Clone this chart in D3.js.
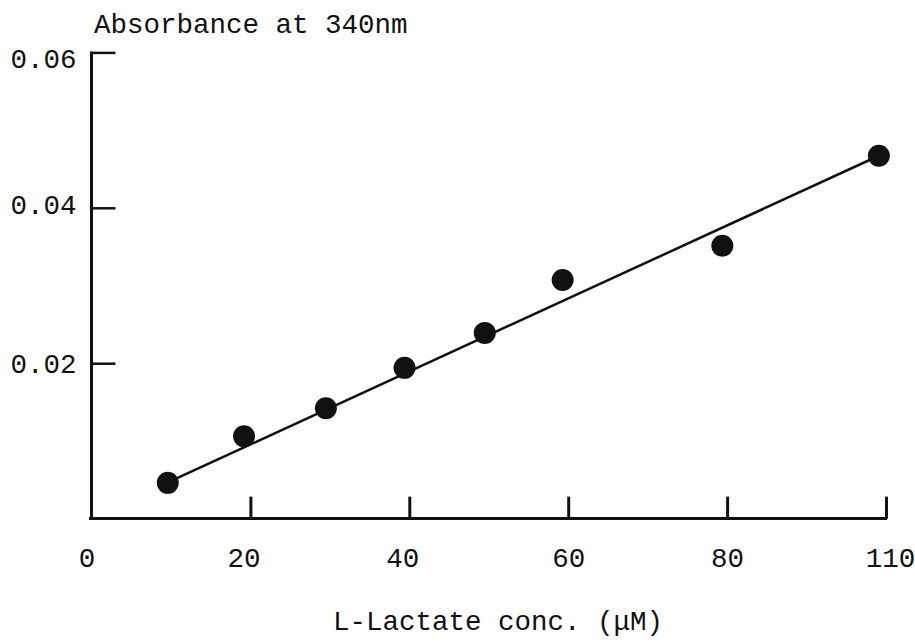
<!DOCTYPE html>
<html>
<head>
<meta charset="utf-8">
<script src="https://cdn.jsdelivr.net/npm/d3@7"></script>
<style>
  html, body { margin: 0; padding: 0; background: #fff; }
  svg { display: block; }
  text { font-family: "Liberation Mono", "DejaVu Sans Mono", monospace; fill: #111; }
</style>
</head>
<body>
<svg id="chart" width="915" height="642"></svg>
<script>
// ---- data ----
const concPositions = [9.6, 19.2, 29.5, 39.4, 49.5, 59.3, 79.4, 99.1];
const absorbance    = [0.0046, 0.0106, 0.0142, 0.0194, 0.0239, 0.0307, 0.0351, 0.0467];
const fitX = [9.6, 99.1];
const fitY = [0.00466, 0.0467];
const xTickValues = [0, 20, 40, 60, 80, 100];
const xTickLabels = ["0", "20", "40", "60", "80", "110"];
const yTickValues = [0.02, 0.04, 0.06];
const yTickLabels = ["0.02", "0.04", "0.06"];
const yTitle = "Absorbance at 340nm";
const xTitle = "L-Lactate conc. (\u03bcM)";

// ---- chart ----
const svg = d3.select("#chart");
const x = d3.scaleLinear().domain([0, 100]).range([91.5, 886]);
const y = d3.scaleLinear().domain([0, 0.06]).range([518.6, 52.4]);

const fontSize = 27.5;
const ff = "'Liberation Mono', 'DejaVu Sans Mono', monospace";

// y axis
const yAxis = d3.axisLeft(y)
  .tickValues(yTickValues)
  .tickFormat((d, i) => yTickLabels[i])
  .tickSizeInner(-24)
  .tickSizeOuter(0)
  .tickPadding(15);
const gy = svg.append("g").attr("transform", `translate(${x(0)},0)`).call(yAxis);
gy.select(".domain").attr("stroke", "#111").attr("stroke-width", 3)
  .attr("d", `M0,${y(0) + 1.5}V${y(0.06) - 1}`);
gy.selectAll(".tick line").attr("stroke", "#111").attr("stroke-width", 2.5);
gy.selectAll(".tick text").attr("font-size", fontSize)
  .attr("dy", (d, i) => ["0.35em", "0.22em", "0.55em"][i])
  .style("font-family", ff).attr("fill", "#111");

// x axis
const xAxis = d3.axisBottom(x)
  .tickValues(xTickValues)
  .tickFormat((d, i) => xTickLabels[i])
  .tickSizeInner(-22)
  .tickSizeOuter(0)
  .tickPadding(29);
const gx = svg.append("g").attr("transform", `translate(0,${y(0)})`).call(xAxis);
gx.select(".domain").attr("stroke", "#111").attr("stroke-width", 3)
  .attr("d", `M${x(0) - 2.5},0H${x(100) + 1}`);
gx.selectAll(".tick line").attr("stroke", "#111").attr("stroke-width", 3)
  .attr("opacity", d => d === 0 ? 0 : 1);
gx.selectAll(".tick text").attr("font-size", fontSize)
  .style("font-family", ff).attr("fill", "#111")
  .attr("dx", (d, i) => i === 0 ? -5 : (i === 1 || i === 2 ? -7 : (i === 5 ? 4 : 0)));

// fit line
const line = d3.line().x(d => x(d[0])).y(d => y(d[1]));
svg.append("path")
  .datum(fitX.map((v, i) => [v, fitY[i]]))
  .attr("d", line)
  .attr("fill", "none")
  .attr("stroke", "#111")
  .attr("stroke-width", 2.5);

// points
svg.append("g").selectAll("circle")
  .data(concPositions.map((v, i) => [v, absorbance[i]]))
  .join("circle")
  .attr("cx", d => x(d[0]))
  .attr("cy", d => y(d[1]))
  .attr("r", 11)
  .attr("fill", "#111");

// titles
svg.append("text")
  .attr("x", 94).attr("y", 33)
  .attr("font-size", fontSize)
  .text(yTitle);

svg.append("text")
  .attr("x", 498).attr("y", 630)
  .attr("text-anchor", "middle")
  .attr("font-size", fontSize)
  .text(xTitle);
</script>
</body>
</html>
